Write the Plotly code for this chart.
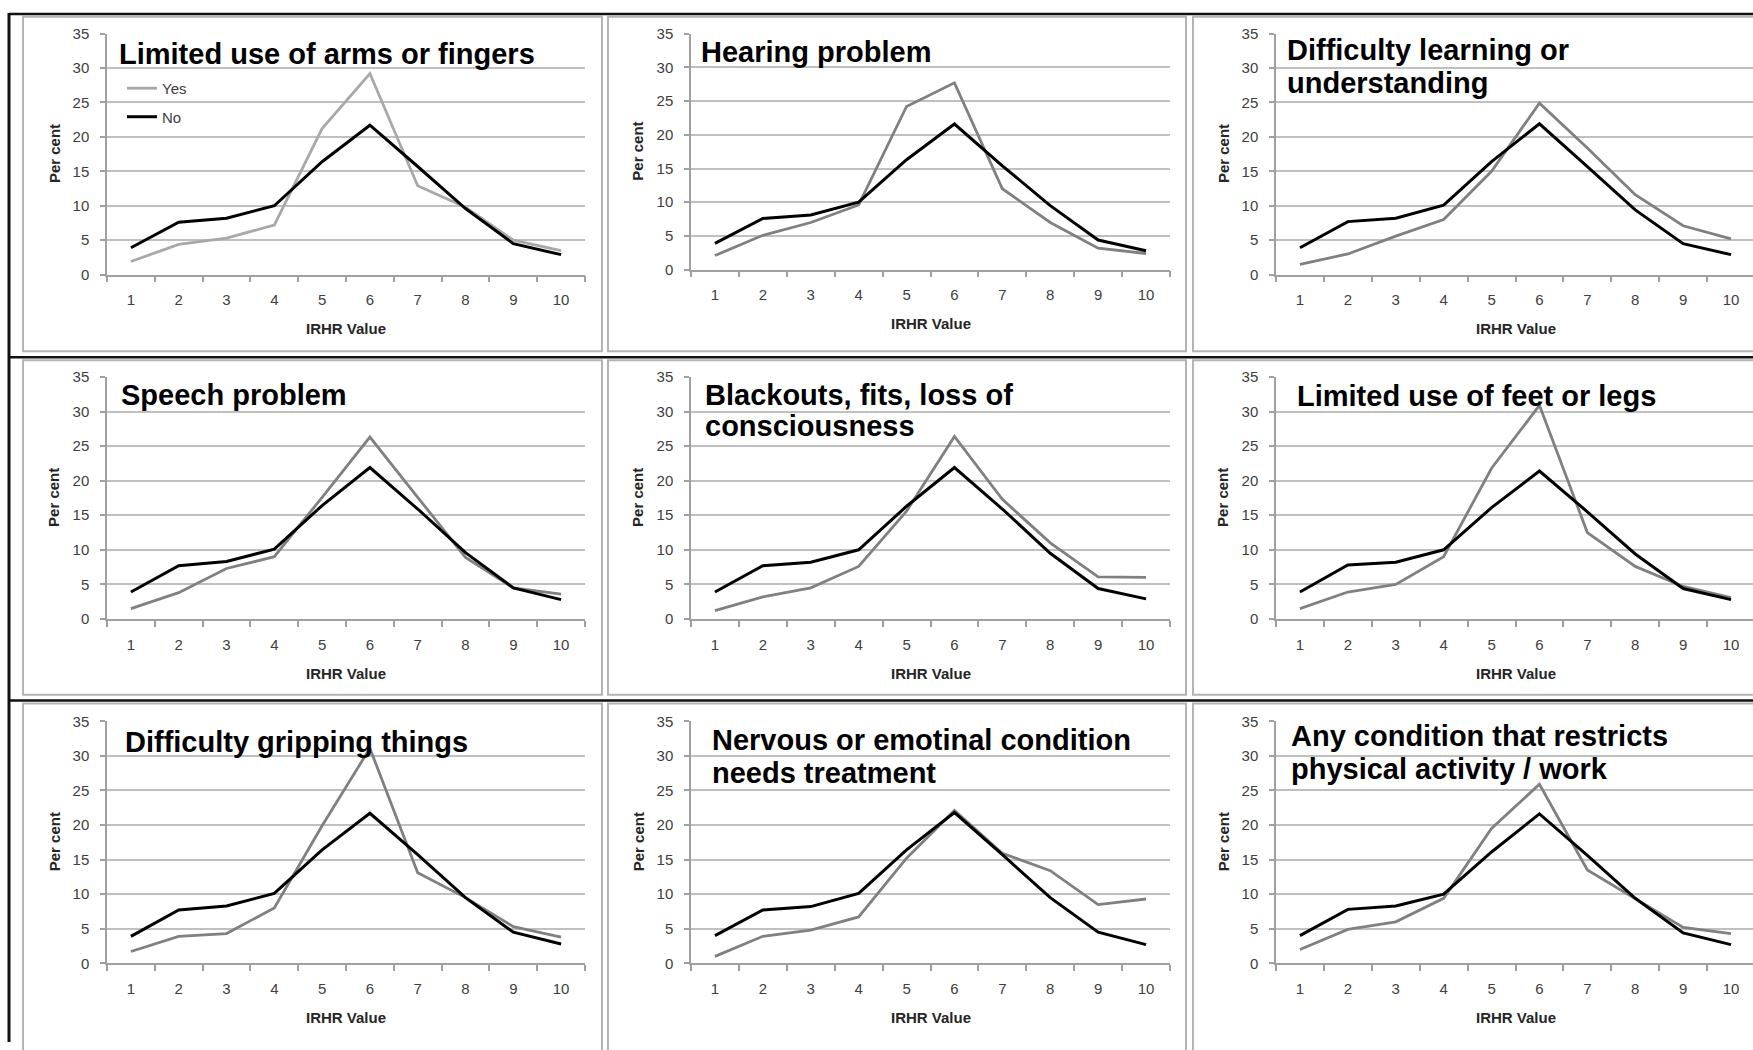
import plotly.graph_objects as go

W, H = 1753, 1050

# ---------------- data ----------------
irhr_values = ["1", "2", "3", "4", "5", "6", "7", "8", "9", "10"]
y_tick_values = [0, 5, 10, 15, 20, 25, 30, 35]
series_names = ["Yes", "No"]

panel_titles = [
    ["Limited use of arms or fingers"],
    ["Hearing problem"],
    ["Difficulty learning or", "understanding"],
    ["Speech problem"],
    ["Blackouts, fits, loss of", "consciousness"],
    ["Limited use of feet or legs"],
    ["Difficulty gripping things"],
    ["Nervous or emotinal condition", "needs treatment"],
    ["Any condition that restricts", "physical activity / work"],
]

yes_arms = [1.9, 4.4, 5.3, 7.2, 21.2, 29.2, 12.9, 9.8, 5.0, 3.5]
no_arms = [3.9, 7.6, 8.2, 10.0, 16.4, 21.7, 15.7, 9.6, 4.5, 2.9]

yes_hearing = [2.1, 5.1, 7.0, 9.6, 24.2, 27.7, 12.0, 7.0, 3.2, 2.4]
no_hearing = [3.9, 7.6, 8.1, 10.0, 16.3, 21.6, 15.4, 9.5, 4.4, 2.8]

yes_learning = [1.5, 3.0, 5.6, 8.0, 15.0, 24.9, 18.4, 11.6, 7.1, 5.2]
no_learning = [3.9, 7.7, 8.2, 10.1, 16.4, 21.9, 15.7, 9.4, 4.5, 2.9]

yes_speech = [1.5, 3.8, 7.3, 9.0, 17.6, 26.3, 17.6, 8.9, 4.5, 3.6]
no_speech = [3.9, 7.7, 8.3, 10.1, 16.4, 21.9, 15.9, 9.6, 4.5, 2.8]

yes_blackouts = [1.2, 3.2, 4.5, 7.6, 15.6, 26.4, 17.3, 11.0, 6.1, 6.0]
no_blackouts = [3.9, 7.7, 8.2, 10.0, 16.3, 21.9, 15.9, 9.5, 4.4, 2.9]

yes_legs = [1.5, 3.9, 5.0, 9.0, 21.8, 30.9, 12.5, 7.6, 4.7, 3.1]
no_legs = [3.9, 7.8, 8.2, 10.0, 16.1, 21.4, 15.5, 9.4, 4.4, 2.8]

yes_gripping = [1.7, 3.9, 4.3, 8.0, 19.9, 31.1, 13.1, 9.5, 5.3, 3.8]
no_gripping = [3.9, 7.7, 8.3, 10.1, 16.4, 21.7, 15.7, 9.5, 4.5, 2.8]

yes_nervous = [1.0, 3.9, 4.8, 6.7, 15.2, 22.1, 15.9, 13.4, 8.5, 9.3]
no_nervous = [4.0, 7.7, 8.2, 10.1, 16.4, 21.8, 15.7, 9.5, 4.5, 2.7]

yes_restricts = [2.0, 4.9, 6.0, 9.4, 19.5, 25.9, 13.5, 9.4, 5.2, 4.3]
no_restricts = [4.0, 7.8, 8.3, 10.0, 16.1, 21.6, 15.6, 9.4, 4.4, 2.7]

yes_series = [yes_arms, yes_hearing, yes_learning, yes_speech, yes_blackouts,
              yes_legs, yes_gripping, yes_nervous, yes_restricts]
no_series = [no_arms, no_hearing, no_learning, no_speech, no_blackouts,
             no_legs, no_gripping, no_nervous, no_restricts]

# ---------------- geometry (pixels) ----------------
col_x = [(107, 585), (691, 1170), (1276, 1755)]
row_y = [(25, 270), (374, 620), (724, 970)]
# title placement per panel: left x, centre y of each line
title_pos = [
    (117, [46]), (699, [44]), (1285, [42, 75]),
    (119, [392]), (703, [392, 424]), (1295, [393]),
    (123, [745]), (710, [743, 777]), (1289, [739, 772]),
]

FONT = "Liberation Sans, Arial, sans-serif"
TICK_COLOR = "#404040"
GRID = "#C0C0C0"
AXIS = "#A0A0A0"


def px(x):
    return x / W


def py(y):
    return 1 - y / H


fig = go.Figure()
annotations = []
shapes = []

for i in range(9):
    r, c = divmod(i, 3)
    n = i + 1
    xs = "" if n == 1 else str(n)
    x0, x1 = col_x[c]
    y0, y1 = row_y[r]
    if i == 1:
        y1 = 265
    yes_color = "#A8A8A8" if i == 0 else "#808080"

    fig.add_trace(go.Scatter(
        x=irhr_values, y=yes_series[i], mode="lines", name=series_names[0],
        line=dict(color=yes_color, width=2.8), xaxis="x" + xs, yaxis="y" + xs,
        showlegend=(i == 0), legendgroup="yes"))
    fig.add_trace(go.Scatter(
        x=irhr_values, y=no_series[i], mode="lines", name=series_names[1],
        line=dict(color="#000000", width=3), xaxis="x" + xs, yaxis="y" + xs,
        showlegend=(i == 0), legendgroup="no"))

    dom_right = min(x1, W)
    cat_w = (x1 - x0) / 10
    x_range_right = -0.5 + (dom_right - x0) / cat_w

    fig.update_layout(**{
        "xaxis" + xs: dict(
            domain=[px(x0), px(dom_right)], anchor="y" + xs, type="category",
            range=[-0.5, x_range_right], tickson="boundaries", ticks="outside",
            ticklen=6, tickcolor=AXIS, tickwidth=1.5, showline=True,
            linecolor=AXIS, linewidth=1.5, showgrid=False, zeroline=False,
            tickfont=dict(family=FONT, size=15, color=TICK_COLOR),
            ticklabelstandoff=11, fixedrange=True),
        "yaxis" + xs: dict(
            domain=[py(y1), py(y0)], anchor="x" + xs, range=[0, 35],
            tickvals=y_tick_values, ticks="outside", ticklen=5,
            tickcolor=AXIS, tickwidth=1.5, showline=True, linecolor=AXIS,
            linewidth=1.5, showgrid=True, gridcolor=GRID, gridwidth=1.5,
            zeroline=False, tickfont=dict(family=FONT, size=15, color=TICK_COLOR),
            ticklabelstandoff=8, fixedrange=True),
    })

    # axis titles
    annotations.append(dict(
        text="<b>IRHR Value</b>", x=px((x0 + x1) / 2), y=py(y1 + 55),
        xref="paper", yref="paper", showarrow=False, xanchor="center",
        yanchor="middle", font=dict(family=FONT, size=15, color="#262626")))
    annotations.append(dict(
        text="<b>Per cent</b>", x=px(x0 - 53), y=py((y0 + y1) / 2),
        xref="paper", yref="paper", showarrow=False, xanchor="center",
        yanchor="middle", textangle=-90,
        font=dict(family=FONT, size=15, color="#262626")))

    # chart title lines
    tx, tys = title_pos[i]
    for line, ty in zip(panel_titles[i], tys):
        annotations.append(dict(
            text="<b>" + line + "</b>", x=px(tx), y=py(ty), xref="paper",
            yref="paper", showarrow=False, xanchor="left", yanchor="middle",
            font=dict(family=FONT, size=29, color="#000000")))

# grey chart-area borders
cell_x = [(23, 602), (608, 1186), (1193, 1765)]
cell_y = [(8, 348), (357, 697), (706, 1060)]
for (cx0, cx1) in cell_x:
    for (cy0, cy1) in cell_y:
        shapes.append(dict(type="rect", xref="paper", yref="paper",
                           x0=px(cx0), x1=px(cx1), y0=py(cy1), y1=py(cy0),
                           line=dict(color="#B4B4B4", width=2),
                           fillcolor="rgba(0,0,0,0)", layer="above"))

# black table lines
for yy in [5, 354, 703]:
    shapes.append(dict(type="line", xref="paper", yref="paper",
                       x0=px(9), x1=1, y0=py(yy), y1=py(yy),
                       line=dict(color="#111111", width=2.5)))
shapes.append(dict(type="line", xref="paper", yref="paper",
                   x0=px(9), x1=px(9), y0=py(4), y1=0,
                   line=dict(color="#111111", width=3)))

fig.update_layout(
    width=W, height=H, margin=dict(l=0, r=0, t=0, b=0),
    paper_bgcolor="white", plot_bgcolor="white",
    annotations=annotations, shapes=shapes,
    showlegend=True,
    legend=dict(x=px(122), y=py(64), xanchor="left", yanchor="top",
                bgcolor="rgba(0,0,0,0)", tracegroupgap=6,
                font=dict(family=FONT, size=15, color=TICK_COLOR),
                itemclick=False, itemdoubleclick=False),
    hovermode=False,
)

fig.write_html("out.html")
